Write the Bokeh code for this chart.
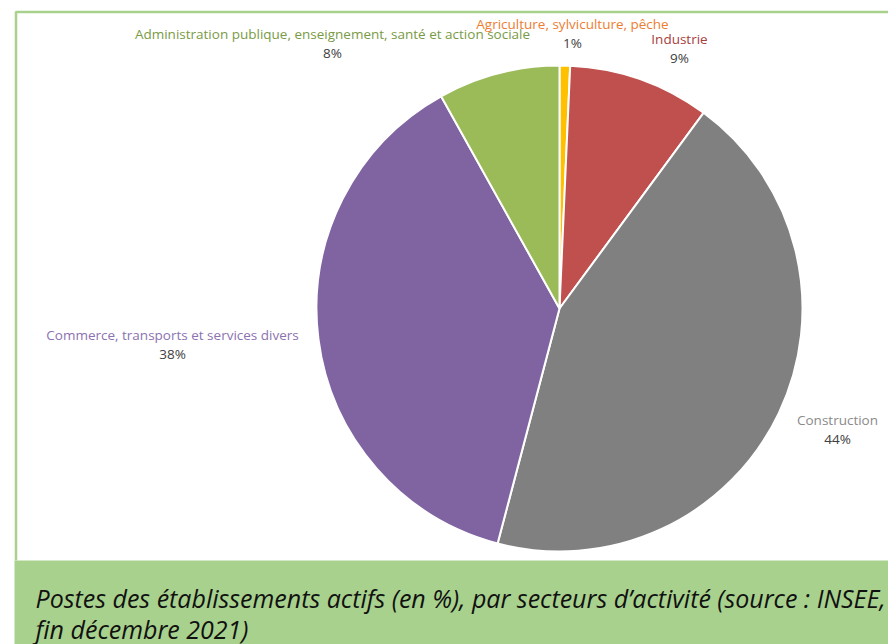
import math
from bokeh.plotting import figure
from bokeh.models import Range1d, ColumnDataSource
from bokeh.core.properties import value
from bokeh.embed import file_html
from bokeh.resources import INLINE

# ---- data ----
sectors = ["Agriculture, sylviculture, pêche", "Industrie", "Construction",
           "Commerce, transports et services divers",
           "Administration publique, enseignement, santé et action sociale"]
shares = [0.7, 9.4, 44.0, 37.8, 8.1]
pct_labels = ["1%", "9%", "44%", "38%", "8%"]
caption_lines = ["Postes des établissements actifs (en %), par secteurs d’activité (source : INSEE,",
                 "fin décembre 2021)"]

# ---- styles / layout ----
slice_colors = ["#FFC000", "#C0504D", "#808080", "#8064A2", "#9BBB59"]
label_colors = ["#ED7D31", "#A5403D", "#8A8A8A", "#8B72B0", "#7A9A45"]
# label anchor positions (screen px)
label_pos = [(572, 23), (679, 38), (837, 419), (172, 334), (332, 33)]

W, H = 888, 644
def sx(x):
    return x
def sy(y):
    return H - y

p = figure(width=W, height=H, output_backend="svg", toolbar_location=None,
           x_range=Range1d(0, W), y_range=Range1d(0, H), min_border=0)
p.axis.visible = False
p.grid.visible = False
p.outline_line_color = None
p.background_fill_color = "white"
p.border_fill_color = "white"

# frame lines
border = "#A9D18E"
p.segment(x0=[sx(15), sx(15.5)], y0=[sy(11.5), sy(11)], x1=[sx(890), sx(15.5)], y1=[sy(11.5), sy(560)],
          line_color=border, line_width=2.5)
# caption box
p.quad(left=[sx(14)], right=[sx(892)], top=[sy(560)], bottom=[sy(648)],
       fill_color="#A9D18E", line_color=None)

# pie
total = sum(shares)
starts, ends, cum = [], [], 0.0
for s in shares:
    starts.append(math.pi / 2 - 2 * math.pi * cum / total)
    cum += s
    ends.append(math.pi / 2 - 2 * math.pi * cum / total)
src = ColumnDataSource(dict(start=starts, end=ends, color=slice_colors))
p.wedge(x=sx(559), y=sy(308), radius=243, start_angle="start", end_angle="end",
        direction="clock", fill_color="color", line_color="white", line_width=2, source=src)

# labels
font = value("Open Sans")
p.text(x=[sx(a) for a, b in label_pos], y=[sy(b) for a, b in label_pos], text=sectors,
       text_color=label_colors, text_font=font, text_font_size="13.5px",
       text_align="center", text_baseline="middle")
p.text(x=[sx(a) for a, b in label_pos], y=[sy(b + 19.5) for a, b in label_pos], text=pct_labels,
       text_color="#404040", text_font=font, text_font_size="13.5px",
       text_align="center", text_baseline="middle")

# caption
p.text(x=[sx(35), sx(35)], y=[sy(597), sy(628)], text=caption_lines,
       text_color="#111111", text_font=font, text_font_size="25px", text_font_style="italic",
       text_align="left", text_baseline="alphabetic")

open("out.html", "w").write(file_html(p, INLINE))
